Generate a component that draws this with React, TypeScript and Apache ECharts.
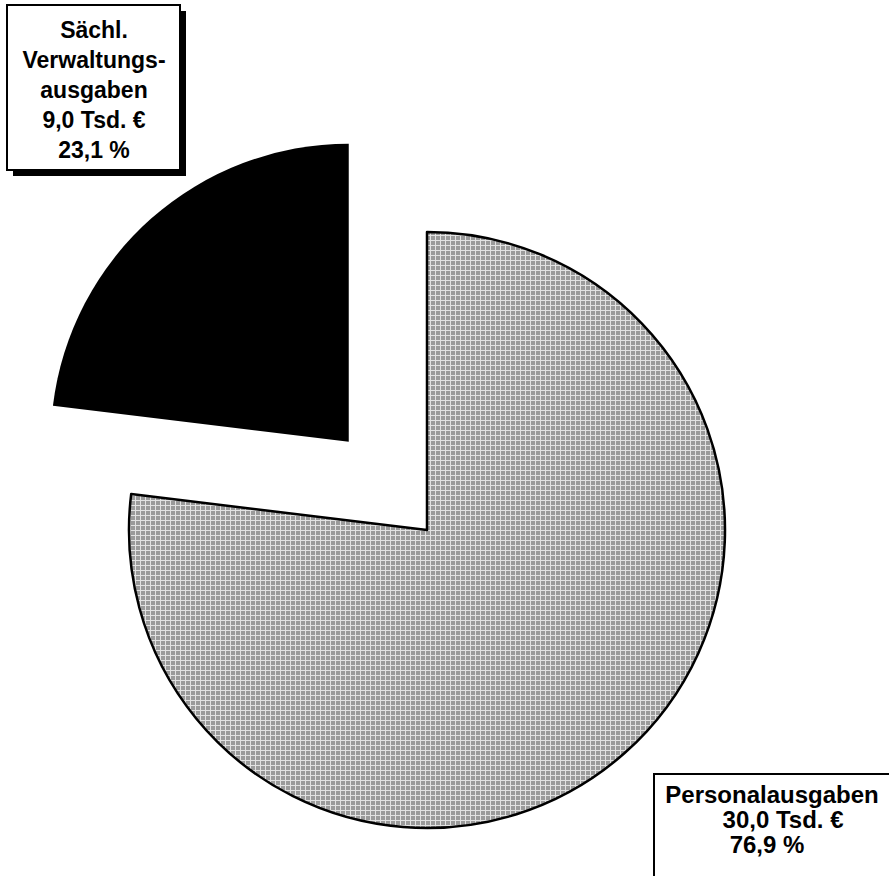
import React, { useEffect, useRef } from "react";
import * as echarts from "echarts";

const categories = ["Personalausgaben", "Sächl. Verwaltungsausgaben"];
const labelTexts = ["Personalausgaben", "Sächl.\nVerwaltungs-\nausgaben"];
const valuesTsd = [30.0, 9.0];
const percents = ["76,9", "23,1"];

function makePattern(): HTMLCanvasElement {
  const c = document.createElement("canvas");
  c.width = 5;
  c.height = 5;
  const ctx = c.getContext("2d")!;
  ctx.fillStyle = "#e2e2e2";
  ctx.fillRect(0, 0, 5, 5);
  ctx.fillStyle = "#9a9a9a";
  ctx.fillRect(1, 1, 4, 4);
  return c;
}

export default function App() {
  const ref = useRef<HTMLDivElement>(null);
  useEffect(() => {
    if (!ref.current) return;
    const chart = echarts.init(ref.current, null, { renderer: "svg" });
    const pattern = makePattern();
    const fills: any[] = [{ image: pattern, repeat: "repeat" }, "#000000"];
    const data = categories.map((name, i) => ({
      name,
      value: valuesTsd[i],
      selected: i === 1,
      itemStyle: {
        color: fills[i],
        borderColor: "#000",
        borderWidth: i === 0 ? 2.5 : 0,
      },
      select: {
        itemStyle: {
          color: fills[i],
          borderColor: "#000",
          borderWidth: i === 0 ? 2.5 : 0,
        },
      },
    }));
    const fmt = (v: number) => v.toFixed(1).replace(".", ",");
    const textOf = (i: number) =>
      `${labelTexts[i]}\n${fmt(valuesTsd[i])} Tsd. €\n${percents[i]} %`;
    const font = "'Liberation Sans', Arial, sans-serif";

    const personalLines = textOf(0).split("\n");
    const personalX = [772, 783, 767];
    const personalTexts = personalLines.map((t, k) => ({
      type: "text",
      x: personalX[k],
      y: 782 + k * 25,
      z: 12,
      style: {
        text: t,
        fill: "#000",
        font: `bold 24px ${font}`,
        align: "center",
        verticalAlign: "top",
      },
    }));

    chart.setOption({
      animation: false,
      backgroundColor: "#fff",
      series: [
        {
          type: "pie",
          center: [427, 530],
          radius: [0, 298],
          startAngle: 90,
          clockwise: true,
          selectedMode: "single",
          selectedOffset: 118,
          silent: true,
          emphasis: { disabled: true },
          data,
          label: { show: false },
          labelLine: { show: false },
        },
      ],
      graphic: [
        // Sächl. box
        { type: "rect", shape: { x: 13, y: 11, width: 173, height: 165 }, style: { fill: "#000" }, z: 10 },
        {
          type: "rect",
          shape: { x: 7, y: 5, width: 173, height: 165 },
          style: { fill: "#fff", stroke: "#000", lineWidth: 2 },
          z: 11,
        },
        {
          type: "text",
          x: 94,
          y: 15,
          z: 12,
          style: {
            text: textOf(1),
            fill: "#000",
            font: `bold 23px ${font}`,
            lineHeight: 30,
            align: "center",
            verticalAlign: "top",
          },
        },
        // Personal box
        {
          type: "rect",
          shape: { x: 654, y: 774, width: 260, height: 130 },
          style: { fill: "#fff", stroke: "#000", lineWidth: 2 },
          z: 11,
        },
        ...personalTexts,
      ],
    });
    return () => chart.dispose();
  }, []);
  return (
    <div
      ref={ref}
      style={{ position: "fixed", left: 0, top: 0, width: 889, height: 876 }}
    />
  );
}
